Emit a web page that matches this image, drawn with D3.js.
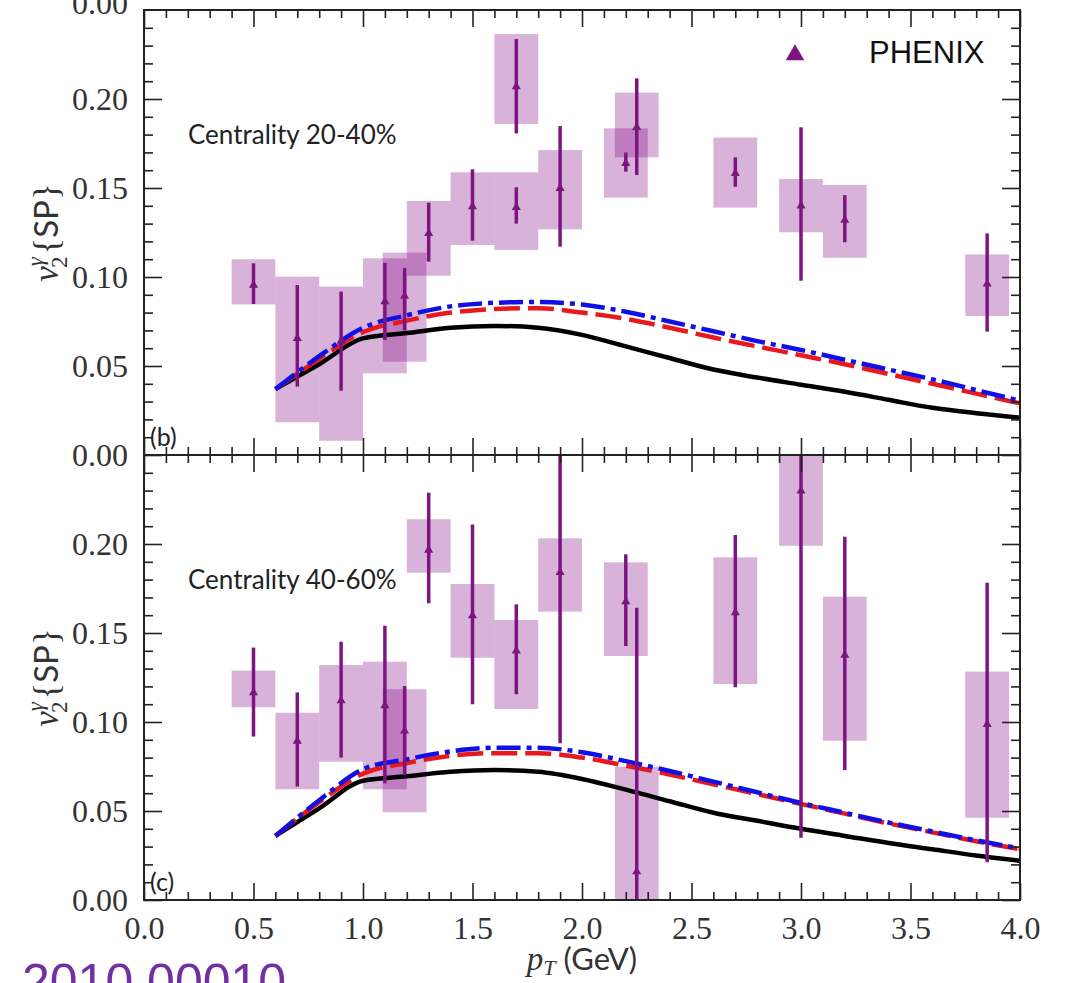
<!DOCTYPE html>
<html>
<head>
<meta charset="utf-8">
<script src="https://cdn.jsdelivr.net/npm/d3@7"></script>
<style>
    body { margin: 0; background: #fff; }
    svg { display: block; }
</style>
</head>
<body>
<div id="grafico"></div>
<script>
// ---- data ----
var curvePt = [0.6, 0.8, 1.0, 1.2, 1.4, 1.6, 1.8, 2.0, 2.2, 2.4, 2.6, 2.8, 3.0, 3.2, 3.4, 3.6, 3.8, 4.0];

// centrality 20-40%
var black20 = [0.037, 0.051, 0.0655, 0.0685, 0.0715, 0.0725, 0.0715, 0.0675, 0.061, 0.0545, 0.048, 0.0435, 0.0395, 0.0355, 0.031, 0.0265, 0.0235, 0.021];
var red20   = [0.037, 0.054, 0.069, 0.0755, 0.080, 0.082, 0.0825, 0.080, 0.0765, 0.0715, 0.066, 0.061, 0.056, 0.051, 0.0455, 0.040, 0.0345, 0.029];
var blue20  = [0.037, 0.0555, 0.0715, 0.0785, 0.0835, 0.0855, 0.086, 0.0845, 0.0805, 0.075, 0.0695, 0.064, 0.059, 0.0535, 0.048, 0.0425, 0.0365, 0.0305];

var pt20     = [0.5, 0.7, 0.9, 1.1, 1.19, 1.3, 1.5, 1.7, 1.7, 1.9, 2.2, 2.25, 2.7, 3.0, 3.2, 3.85];
var v20      = [0.0955, 0.0655, 0.064, 0.0861, 0.0893, 0.1245, 0.1395, 0.1391, 0.207, 0.1498, 0.1639, 0.1841, 0.1582, 0.140, 0.132, 0.0961];
var statLo20 = [0.0848, 0.0384, 0.0361, 0.0646, 0.070, 0.1086, 0.1204, 0.130, 0.1807, 0.117, 0.1592, 0.1573, 0.1507, 0.0979, 0.1195, 0.0693];
var statHi20 = [0.1077, 0.0955, 0.0918, 0.108, 0.105, 0.1418, 0.1605, 0.1504, 0.2337, 0.1848, 0.1699, 0.2116, 0.1672, 0.1841, 0.146, 0.1245];
var sysLo20  = [0.0846, 0.0184, 0.008, 0.0459, 0.0524, 0.1007, 0.118, 0.1152, 0.186, 0.1268, 0.1446, 0.1672, 0.139, 0.1251, 0.1108, 0.0781];
var sysHi20  = [0.110, 0.1002, 0.0946, 0.1105, 0.1137, 0.1427, 0.1588, 0.1588, 0.2365, 0.1713, 0.1835, 0.2036, 0.1783, 0.155, 0.1517, 0.1127];

// centrality 40-60%
var black40 = [0.036, 0.0515, 0.067, 0.0695, 0.072, 0.073, 0.072, 0.068, 0.062, 0.0555, 0.049, 0.0445, 0.040, 0.036, 0.032, 0.0285, 0.025, 0.022];
var red40   = [0.036, 0.055, 0.071, 0.077, 0.081, 0.0825, 0.0825, 0.080, 0.0755, 0.0705, 0.065, 0.0595, 0.054, 0.0485, 0.043, 0.038, 0.033, 0.0285];
var blue40  = [0.036, 0.056, 0.0735, 0.079, 0.0835, 0.0855, 0.0855, 0.083, 0.078, 0.0725, 0.0665, 0.0605, 0.0545, 0.049, 0.0435, 0.0385, 0.0335, 0.029];

var pt40     = [0.5, 0.7, 0.9, 1.1, 1.19, 1.3, 1.5, 1.7, 1.9, 2.2, 2.25, 2.7, 3.0, 3.2, 3.85];
var v40      = [0.1165, 0.0893, 0.112, 0.1092, 0.095, 0.1966, 0.1597, 0.140, 0.184, 0.1676, 0.0159, 0.1614, 0.2298, 0.1376, 0.0987];
var statLo40 = [0.0918, 0.0637, 0.080, 0.0655, 0.070, 0.1667, 0.110, 0.1156, 0.088, 0.1427, -0.132, 0.1195, 0.035, 0.073, 0.0212];
var statHi40 = [0.1418, 0.1166, 0.1451, 0.1541, 0.1202, 0.2288, 0.211, 0.1661, 0.280, 0.1942, 0.1642, 0.205, 0.425, 0.2041, 0.1783];
var sysLo40  = [0.1083, 0.0622, 0.0777, 0.0622, 0.0493, 0.1839, 0.1361, 0.1073, 0.162, 0.1371, -0.043, 0.1213, 0.199, 0.0895, 0.0462];
var sysHi40  = [0.1289, 0.1052, 0.132, 0.1339, 0.1184, 0.2139, 0.1775, 0.1573, 0.2032, 0.1897, 0.0749, 0.1925, 0.261, 0.1704, 0.1283];

var binHalf = 0.1;

var xTicks = [0, 0.5, 1.0, 1.5, 2.0, 2.5, 3.0, 3.5, 4.0];
var xTickLabels = ["0.0", "0.5", "1.0", "1.5", "2.0", "2.5", "3.0", "3.5", "4.0"];
var yTicks = [0, 0.05, 0.10, 0.15, 0.20];
var yTickLabels = ["0.00", "0.05", "0.10", "0.15", "0.20"];
var topEdgeLabel = "0.00";

var panels = [
    {tag: "(b)", centrality: "Centrality 20-40%", pt: pt20, v: v20, sLo: statLo20, sHi: statHi20, bLo: sysLo20, bHi: sysHi20, black: black20, red: red20, blue: blue20},
    {tag: "(c)", centrality: "Centrality 40-60%", pt: pt40, v: v40, sLo: statLo40, sHi: statHi40, bLo: sysLo40, bHi: sysHi40, black: black40, red: red40, blue: blue40}
];

// ---- drawing ----
var W = 1066, H = 983;
var svg = d3.select("#grafico").append("svg").attr("width", W).attr("height", H);

var left = 144, right = 1020;
var panelTop = [10, 455], panelH = 445;
var serif = "'Liberation Serif', 'DejaVu Serif', serif";
var sans = "Lato, 'Open Sans', sans-serif";
var purple = "#7d1580";

var x = d3.scaleLinear().domain([0, 4]).range([left, right]);
var minorX = d3.range(0, 41).map(function (i) { return i / 10; }).filter(function (d) { return Math.round(d * 10) % 5 !== 0; });
var minorY = d3.range(0, 26).map(function (i) { return i / 100; }).filter(function (d) { return Math.round(d * 100) % 5 !== 0; });

panels.forEach(function (p, k) {
    var top = panelTop[k], bottom = top + panelH;
    var y = d3.scaleLinear().domain([0, 0.25]).range([bottom, top]);
    var g = svg.append("g");

    var clipId = "clip" + k;
    svg.append("clipPath").attr("id", clipId).append("rect")
            .attr("x", left).attr("y", top).attr("width", right - left).attr("height", panelH);

    var plot = g.append("g").attr("clip-path", "url(#" + clipId + ")");

    var pts = p.pt.map(function (d, i) {
        return {pt: d, v: p.v[i], sLo: p.sLo[i], sHi: p.sHi[i], bLo: p.bLo[i], bHi: p.bHi[i]};
    });

    // systematic boxes
    plot.append("g").selectAll("rect").data(pts).enter().append("rect")
            .attr("x", function (d) { return x(d.pt - binHalf); })
            .attr("width", function (d) { return x(d.pt + binHalf) - x(d.pt - binHalf); })
            .attr("y", function (d) { return y(d.bHi); })
            .attr("height", function (d) { return y(d.bLo) - y(d.bHi); })
            .attr("fill", "#800080")
            .attr("fill-opacity", 0.3);

    // model curves
    var line = function (vals) {
        return d3.line()
                .x(function (d, i) { return x(curvePt[i]); })
                .y(function (d) { return y(d); })
                .curve(d3.curveMonotoneX)(vals);
    };
    plot.append("path").attr("d", line(p.black)).attr("fill", "none")
            .attr("stroke", "#000").attr("stroke-width", 4.5);
    plot.append("path").attr("d", line(p.red)).attr("fill", "none")
            .attr("stroke", "#e8191c").attr("stroke-width", 4.5)
            .attr("stroke-dasharray", "26,8");
    plot.append("path").attr("d", line(p.blue)).attr("fill", "none")
            .attr("stroke", "#1010e6").attr("stroke-width", 4.5)
            .attr("stroke-dasharray", "24,6,5,6");

    // statistical bars
    plot.append("g").selectAll("line").data(pts).enter().append("line")
            .attr("x1", function (d) { return x(d.pt); })
            .attr("x2", function (d) { return x(d.pt); })
            .attr("y1", function (d) { return y(d.sLo); })
            .attr("y2", function (d) { return y(d.sHi); })
            .attr("stroke", purple)
            .attr("stroke-width", 3.5);

    plot.append("g").selectAll("path").data(pts).enter().append("path")
            .attr("d", d3.symbol().type(d3.symbolTriangle).size(36))
            .attr("transform", function (d) { return "translate(" + x(d.pt) + "," + y(d.v) + ")"; })
            .attr("fill", purple);

    // axes with inward ticks
    var tickCol = "#222";
    var mk = function (axis, pos, tr, size, vals, fmt, pad) {
        var a = g.append("g").attr("transform", tr)
                .call(axis(pos).tickValues(vals).tickSize(-size).tickSizeOuter(0).tickPadding(pad || 3).tickFormat(fmt));
        a.select(".domain").remove();
        a.selectAll("line").attr("stroke", tickCol).attr("stroke-width", 1.6);
        return a;
    };
    var none = function () { return ""; };

    mk(d3.axisTop, x, "translate(0," + top + ")", 17, xTicks, none);
    mk(d3.axisTop, x, "translate(0," + top + ")", 8, minorX, none);
    var xb = mk(d3.axisBottom, x, "translate(0," + bottom + ")", 17, xTicks,
            function (d, i) { return k === 1 ? xTickLabels[i] : ""; }, 16);
    mk(d3.axisBottom, x, "translate(0," + bottom + ")", 8, minorX, none);
    var yl = mk(d3.axisLeft, y, "translate(" + left + ",0)", 18, yTicks,
            function (d, i) { return yTickLabels[i]; }, 16);
    mk(d3.axisLeft, y, "translate(" + left + ",0)", 9, minorY, none);
    mk(d3.axisRight, y, "translate(" + right + ",0)", 18, yTicks, none);
    mk(d3.axisRight, y, "translate(" + right + ",0)", 9, minorY, none);

    [xb, yl].forEach(function (a) {
        a.selectAll("text").attr("font-family", serif).attr("font-size", 32).attr("fill", "#333");
    });

    if (k === 0) {
        // label of the panel above, cut by the page edge
        g.append("text").attr("x", left - 16).attr("y", y(0.25) + 4)
                .attr("text-anchor", "end")
                .attr("font-family", serif).attr("font-size", 32).attr("fill", "#333")
                .text(topEdgeLabel);
    }

    // frame
    g.append("rect").attr("x", left).attr("y", top).attr("width", right - left).attr("height", panelH)
            .attr("fill", "none").attr("stroke", "#222").attr("stroke-width", 2);

    // texts
    g.append("text").attr("x", 188).attr("y", top + 134)
            .attr("font-family", sans).attr("font-size", 26).attr("fill", "#222")
            .text(p.centrality);
    g.append("text").attr("x", 150).attr("y", bottom - 9)
            .attr("font-family", sans).attr("font-size", 25).attr("fill", "#222")
            .text(p.tag);

    // y label
    var yt = g.append("text")
            .attr("transform", "translate(58," + (top + panelH / 2) + ") rotate(-90)")
            .attr("text-anchor", "middle")
            .attr("font-family", serif).attr("font-size", 35).attr("fill", "#333");
    yt.append("tspan").attr("font-style", "italic").text("v");
    yt.append("tspan").attr("font-style", "italic").attr("font-size", 23).attr("dy", -15).text("γ");
    yt.append("tspan").attr("font-size", 23).attr("dx", -11).attr("dy", 24).text("2");
    yt.append("tspan").attr("dy", -9).attr("dx", 2).text("{");
    yt.append("tspan").attr("font-family", sans).attr("font-size", 33).text("SP");
    yt.append("tspan").text("}");
});

// legend
svg.append("path")
        .attr("d", d3.symbol().type(d3.symbolTriangle).size(150))
        .attr("transform", "translate(795,55)")
        .attr("fill", purple);
svg.append("text").attr("x", 869).attr("y", 63)
        .attr("font-family", "'Liberation Sans', Arial, sans-serif").attr("font-size", 31).attr("fill", "#111")
        .text("PHENIX");

// x label
var xt = svg.append("text").attr("x", (left + right) / 2).attr("y", 970)
        .attr("text-anchor", "middle").attr("font-family", serif).attr("font-size", 33).attr("fill", "#333");
xt.append("tspan").attr("font-style", "italic").text("p");
xt.append("tspan").attr("font-style", "italic").attr("font-size", 22).attr("dy", 5).text("T");
xt.append("tspan").attr("dy", -5).attr("font-family", sans).attr("font-size", 31).text(" (GeV)");

// slide footnote, cut by the page edge
svg.append("text").attr("x", 22).attr("y", 999)
        .attr("font-family", "'Liberation Sans', Arial, sans-serif").attr("font-size", 50).attr("fill", "#7030a0")
        .text("2010.00010");
</script>
</body>
</html>
